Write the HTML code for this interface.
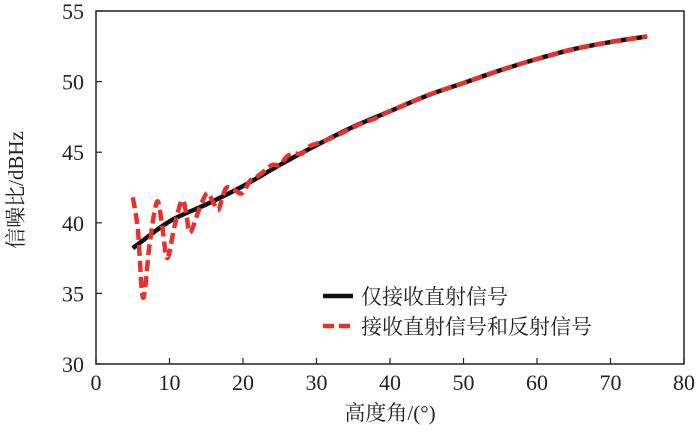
<!DOCTYPE html>
<html><head><meta charset="utf-8"><style>
body{margin:0;background:#fff}
svg text{font-family:"Liberation Serif","Noto Serif CJK SC",serif;fill:#222}
</style></head><body>
<svg width="700" height="433">
<g id="axes"></g><g id="series"></g><g id="legend"></g>
</svg>
<script>
const xTicks=[0,10,20,30,40,50,60,70,80];
const yTicks=[30,35,40,45,50,55];
const directX=[5,10,15,20,25,30,35,40,45,50,55,60,65,70,75];
const directY=[38.2,40.1,41.3,42.6,44.1,45.5,46.8,47.9,49.0,49.9,50.8,51.6,52.3,52.8,53.2];
const mixX=[5,5.7,6.4,7.3,8.3,9.0,9.7,10.7,11.7,12.3,12.8,14.0,15.1,15.9,16.6,17.2,17.8,18.9,19.9,21,22,23,24,25,26,27,28,29,30,32,34,36,38,40,45,50,55,60,65,70,75];
const mixY=[41.8,39.5,34.7,38.5,41.5,39.8,37.5,39.8,41.6,40.6,39.3,40.9,42.1,41.5,40.9,41.8,42.5,42.3,42.1,43.0,43.3,43.7,44.1,44.1,44.7,44.9,44.9,45.4,45.6,46.0,46.5,47.0,47.4,47.9,49.0,49.9,50.8,51.6,52.3,52.8,53.2];
const X0=96,X1=684,Y0=364,Y1=11;
const sx=v=>X0+(v-0)/80*(X1-X0), sy=v=>Y0-(v-30)/25*(Y0-Y1);
const NS="http://www.w3.org/2000/svg";
function mk(t,a,p){const e=document.createElementNS(NS,t);for(const k in a)e.setAttribute(k,a[k]);p.appendChild(e);return e;}
const ax=document.getElementById('axes');
const frame=mk('rect',{x:X0,y:Y1,width:X1-X0,height:Y0-Y1,fill:'none',stroke:'#222','stroke-width':1.5},ax);


xTicks.forEach(v=>{const x=sx(v);
 const t=mk('line',{x1:x,x2:x,y1:Y0,y2:Y0-6,stroke:'#222','stroke-width':1.2},ax);
 
 
 const l=mk('text',{x:x,y:Y0+26,'text-anchor':'middle','font-size':22},ax);l.textContent=v;
 
 });
yTicks.forEach(v=>{const y=sy(v);
 const t=mk('line',{x1:X0,x2:X0+6,y1:y,y2:y,stroke:'#222','stroke-width':1.2},ax);
 
 
 const l=mk('text',{x:X0-12,y:y+8,'text-anchor':'end','font-size':22},ax);l.textContent=v;
 
 });
const xt=mk('text',{x:390,y:420,'text-anchor':'middle','font-size':21},ax);xt.textContent='高度角/(°)';


const yt=mk('text',{x:0,y:0,'text-anchor':'middle','font-size':21,transform:'translate(23,190) rotate(-90)'},ax);yt.textContent='信噪比/dBHz';


function pathD(xs,ys){const p=xs.map((x,i)=>[sx(x),sy(ys[i])]);let d='M'+p[0][0]+','+p[0][1];
 for(let i=0;i<p.length-1;i++){const a=p[Math.max(0,i-1)],b=p[i],c=p[i+1],e=p[Math.min(p.length-1,i+2)];
  d+=' C'+(b[0]+(c[0]-a[0])/6)+','+(b[1]+(c[1]-a[1])/6)+' '+(c[0]-(e[0]-b[0])/6)+','+(c[1]-(e[1]-b[1])/6)+' '+c[0]+','+c[1];}
 return d;}
const se=document.getElementById('series');
const s1=mk('path',{d:pathD(directX,directY),fill:'none',stroke:'#111','stroke-width':4.5},se);


const s2=mk('path',{d:pathD(mixX,mixY),fill:'none',stroke:'#e8302c','stroke-width':4.5,'stroke-dasharray':'11,5'},se);


const lg=document.getElementById('legend');
const l1=mk('line',{x1:323,x2:353,y1:296,y2:296,stroke:'#111','stroke-width':4.5},lg);


const t1=mk('text',{x:361,y:304,'font-size':21},lg);t1.textContent='仅接收直射信号';


const l2=mk('line',{x1:323,x2:353,y1:326,y2:326,stroke:'#e8302c','stroke-width':4.5,'stroke-dasharray':'11,5'},lg);


const t2=mk('text',{x:361,y:334,'font-size':21},lg);t2.textContent='接收直射信号和反射信号';


</script>
</body></html>
